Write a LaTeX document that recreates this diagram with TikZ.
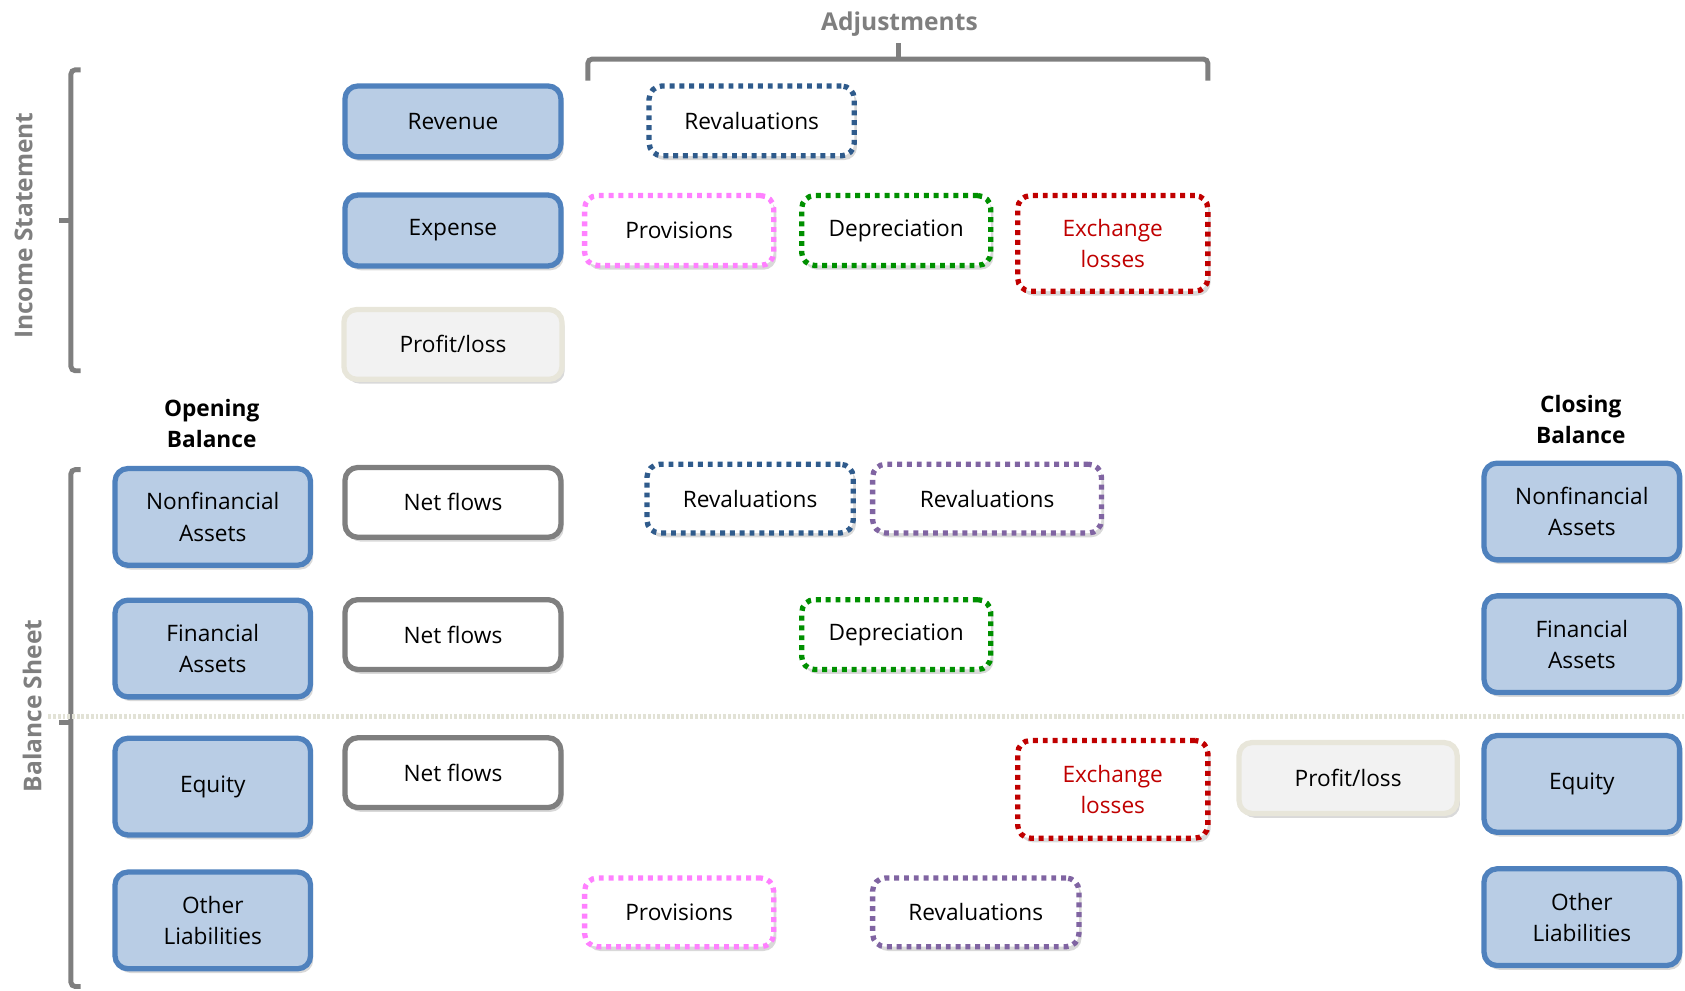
\documentclass[tikz,border=0pt]{standalone}
\usepackage{fontspec}
\setmainfont{Open Sans}
\usetikzlibrary{shadows}
\definecolor{acctfill}{HTML}{B9CDE5}
\definecolor{acctline}{HTML}{4F81BD}
\definecolor{flowline}{HTML}{7F7F7F}
\definecolor{plfill}{HTML}{F2F2F2}
\definecolor{plline}{HTML}{E8E6DA}
\definecolor{revblue}{HTML}{2F5B8C}
\definecolor{revpurple}{HTML}{8064A2}
\definecolor{provpink}{HTML}{FF80FF}
\definecolor{deprgreen}{HTML}{009000}
\definecolor{exchred}{HTML}{C00000}
\definecolor{bracegray}{HTML}{7F7F7F}
\definecolor{divline}{HTML}{E2E2D6}
\tikzset{
  box/.style={rounded corners=0.24cm, line width=2.8pt, align=center,
    font=\fontsize{12}{16.5}\selectfont,
    drop shadow={opacity=0.3, shadow xshift=0.05cm, shadow yshift=-0.08cm}},
  acct/.style={box, draw=acctline, fill=acctfill, minimum width=3.64cm, minimum height=1.80cm},
  flowbox/.style={box, draw=flowline, fill=white, minimum width=4.02cm, minimum height=1.30cm},
  plbox/.style={box, draw=plline, fill=plfill, minimum width=4.06cm, minimum height=1.30cm},
  adjbox/.style={box, fill=white, dash pattern=on 2.6pt off 2.6pt},
  brkt/.style={bracegray, line width=2.6pt, rounded corners=0.08cm},
  head/.style={font=\fontsize{12}{16.5}\selectfont\bfseries, align=center},
  grayhead/.style={text=bracegray, font=\fontsize{13}{16}\selectfont\bfseries}
}
\begin{document}
\begin{tikzpicture}[x=0.02cm, y=-0.02cm]
    \useasboundingbox (0,0) rectangle (1568,922);
    % Section brackets
    \draw[brkt] (547,75) -- (547,55) -- (1124,55) -- (1124,75);
    \draw[brkt] (836,55) -- (836,40);
    \draw[brkt] (75,65) -- (66,65) -- (66,345) -- (75,345);
    \draw[brkt] (66,205) -- (55,205);
    \draw[brkt] (75,437) -- (66,437) -- (66,918) -- (75,918);
    \draw[brkt] (66,672) -- (55,672);
    \node[grayhead] (adjTitle) at (837,22) {Adjustments};
    \node[grayhead, rotate=90] (isLabel) at (22,210) {Income Statement};
    \node[grayhead, rotate=90] (bsLabel) at (30,657) {Balance Sheet};
    % Assets / liabilities divider
    \draw[divline, line width=2.6pt, dash pattern=on 1.5pt off 1pt] (45,667) -- (1568,667);
    % Income statement
    \node[acct, minimum width=4.02cm, minimum height=1.32cm] (rev) at (421.5,113) {Revenue};
    \node[acct, minimum width=4.02cm, minimum height=1.32cm] (exp) at (421.5,214.5) {Expense};
    \node[plbox] (plIS) at (421.5,320.5) {Profit/loss};
    \node[adjbox, draw=revblue, minimum width=3.82cm, minimum height=1.30cm] (revalIS) at (699.5,112.5) {Revaluations};
    \node[adjbox, draw=provpink, minimum width=3.52cm, minimum height=1.30cm] (provIS) at (632,214.5) {Provisions};
    \node[adjbox, draw=deprgreen, minimum width=3.52cm, minimum height=1.30cm] (deprIS) at (834,214.5) {Depreciation};
    \node[adjbox, draw=exchred, text=exchred, minimum width=3.54cm, minimum height=1.78cm] (exchIS) at (1035.5,226.5) {Exchange\\losses};
    % Opening balance
    \node[head] (openHead) at (197,394) {Opening\\Balance};
    \node[acct] (openNFA) at (198,481) {Nonfinancial\\Assets};
    \node[acct] (openFA) at (198,603.5) {Financial\\Assets};
    \node[acct] (openEq) at (198,732) {Equity};
    \node[acct] (openOL) at (198,856.5) {Other\\Liabilities};
    % Net flows
    \node[flowbox] (flowNFA) at (421.5,467.5) {Net flows};
    \node[flowbox] (flowFA) at (421.5,590.5) {Net flows};
    \node[flowbox] (flowEq) at (421.5,719) {Net flows};
    % Balance sheet adjustments
    \node[adjbox, draw=revblue, minimum width=3.84cm, minimum height=1.28cm] (revalNFA) at (698,464) {Revaluations};
    \node[adjbox, draw=revpurple, minimum width=4.26cm, minimum height=1.28cm] (revalNFB) at (918.5,464) {Revaluations};
    \node[adjbox, draw=deprgreen, minimum width=3.52cm, minimum height=1.30cm] (deprBS) at (834,590.5) {Depreciation};
    \node[adjbox, draw=exchred, text=exchred, minimum width=3.54cm, minimum height=1.82cm] (exchBS) at (1035.5,734.5) {Exchange\\losses};
    \node[plbox, minimum height=1.32cm] (plBS) at (1254.5,724) {Profit/loss};
    \node[adjbox, draw=provpink, minimum width=3.52cm, minimum height=1.28cm] (provBS) at (632,849) {Provisions};
    \node[adjbox, draw=revpurple, minimum width=3.84cm, minimum height=1.28cm] (revalOL) at (908,849) {Revaluations};
    % Closing balance
    \node[head] (closeHead) at (1471,390) {Closing\\Balance};
    \node[acct] (closeNFA) at (1472,476) {Nonfinancial\\Assets};
    \node[acct] (closeFA) at (1472,599.5) {Financial\\Assets};
    \node[acct] (closeEq) at (1472,729.5) {Equity};
    \node[acct] (closeOL) at (1472,853.5) {Other\\Liabilities};
\end{tikzpicture}
\end{document}
